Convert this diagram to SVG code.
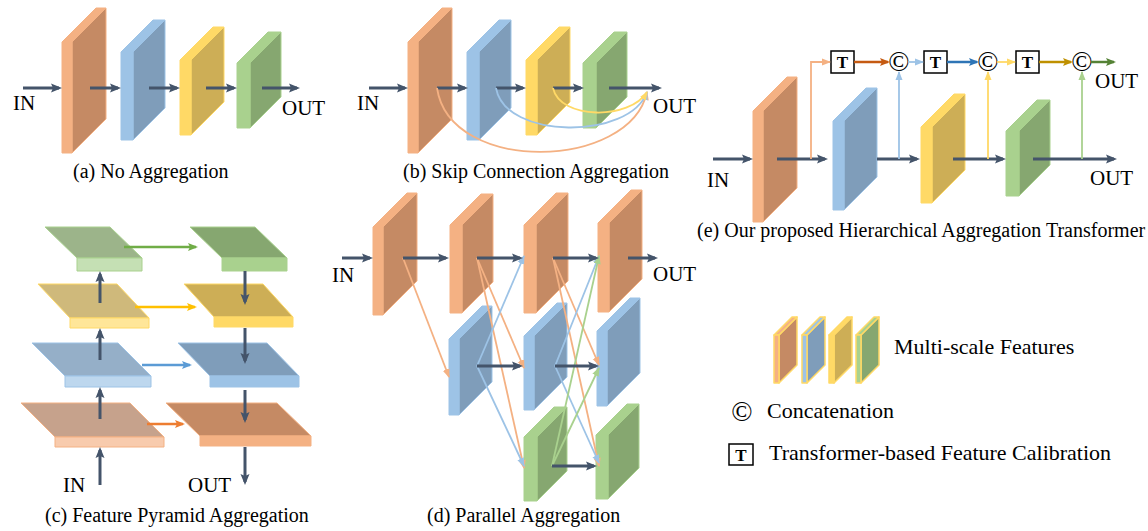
<svg xmlns="http://www.w3.org/2000/svg" width="1148" height="531" viewBox="0 0 1148 531">
<style>
text{font-family:"Liberation Serif","Times New Roman",serif;fill:#000}
.lbl{font-size:21px}
.cap{font-size:20px}
.leg{font-size:22px}
.cc{font-size:28px;text-anchor:middle}
.tt{font-size:17px;font-weight:bold;text-anchor:middle}
.tb{fill:#fff;stroke:#000;stroke-width:1.5}
.f,.s{stroke-width:1;stroke-linejoin:round}
.o .f{fill:#F4B183;stroke:#F4B183}.o .s{fill:#C58A64;stroke:#F4B183}
.b .f{fill:#9DC3E6;stroke:#9DC3E6}.b .s{fill:#7F9DBA;stroke:#9DC3E6}
.y .f{fill:#FFD966;stroke:#FFD966}.y .s{fill:#CDAE56;stroke:#FFD966}
.g .f{fill:#A9D18E;stroke:#A9D18E}.g .s{fill:#86A770;stroke:#A9D18E}
.lg .f,.lg .s{stroke:#FFD966;stroke-width:1.5}
.po .f{fill:#F8CBAD;stroke:#F4B183}.po .s{fill:#C6A28C;stroke:#F4B183}
.pb .f{fill:#BDD7EE;stroke:#9DC3E6}.pb .s{fill:#95AFC8;stroke:#9DC3E6}
.py .f{fill:#FFE699;stroke:#FFD966}.py .s{fill:#CFB97B;stroke:#FFD966}
.pg .f{fill:#C5E0B4;stroke:#A9D18E}.pg .s{fill:#9CB48A;stroke:#A9D18E}
.dk{fill:none;stroke:#44546A;stroke-width:3;marker-end:url(#m-dk)}
.th{fill:none;stroke-width:1.8}
.md{fill:none;stroke-width:2.5}
</style>
<defs>
<marker id="m-dk" markerUnits="userSpaceOnUse" markerWidth="11" markerHeight="10" refX="8" refY="5" orient="auto"><path d="M0,0.5 L11,5 L0,9.5 L2,5 z" fill="#44546A"/></marker>
<marker id="m-lo" markerUnits="userSpaceOnUse" markerWidth="9" markerHeight="8" refX="8" refY="4" orient="auto"><path d="M0,0.5 L9,4 L0,7.5 z" fill="#F4B183"/></marker>
<marker id="m-lb" markerUnits="userSpaceOnUse" markerWidth="9" markerHeight="8" refX="8" refY="4" orient="auto"><path d="M0,0.5 L9,4 L0,7.5 z" fill="#9DC3E6"/></marker>
<marker id="m-ly" markerUnits="userSpaceOnUse" markerWidth="9" markerHeight="8" refX="8" refY="4" orient="auto"><path d="M0,0.5 L9,4 L0,7.5 z" fill="#FFD966"/></marker>
<marker id="m-lg" markerUnits="userSpaceOnUse" markerWidth="9" markerHeight="8" refX="8" refY="4" orient="auto"><path d="M0,0.5 L9,4 L0,7.5 z" fill="#A9D18E"/></marker>
<marker id="m-co" markerUnits="userSpaceOnUse" markerWidth="10" markerHeight="9" refX="8" refY="4.5" orient="auto"><path d="M0,0.5 L10,4.5 L0,8.5 L2,4.5 z" fill="#ED7D31"/></marker>
<marker id="m-cb" markerUnits="userSpaceOnUse" markerWidth="10" markerHeight="9" refX="8" refY="4.5" orient="auto"><path d="M0,0.5 L10,4.5 L0,8.5 L2,4.5 z" fill="#5B9BD5"/></marker>
<marker id="m-cy" markerUnits="userSpaceOnUse" markerWidth="10" markerHeight="9" refX="8" refY="4.5" orient="auto"><path d="M0,0.5 L10,4.5 L0,8.5 L2,4.5 z" fill="#FFC000"/></marker>
<marker id="m-cg" markerUnits="userSpaceOnUse" markerWidth="10" markerHeight="9" refX="8" refY="4.5" orient="auto"><path d="M0,0.5 L10,4.5 L0,8.5 L2,4.5 z" fill="#70AD47"/></marker>
<marker id="m-eo" markerUnits="userSpaceOnUse" markerWidth="10" markerHeight="9" refX="8" refY="4.5" orient="auto"><path d="M0,0.5 L10,4.5 L0,8.5 L2,4.5 z" fill="#C55A11"/></marker>
<marker id="m-eb" markerUnits="userSpaceOnUse" markerWidth="10" markerHeight="9" refX="8" refY="4.5" orient="auto"><path d="M0,0.5 L10,4.5 L0,8.5 L2,4.5 z" fill="#2E75B6"/></marker>
<marker id="m-ey" markerUnits="userSpaceOnUse" markerWidth="10" markerHeight="9" refX="8" refY="4.5" orient="auto"><path d="M0,0.5 L10,4.5 L0,8.5 L2,4.5 z" fill="#BF9000"/></marker>
<marker id="m-eg" markerUnits="userSpaceOnUse" markerWidth="10" markerHeight="9" refX="8" refY="4.5" orient="auto"><path d="M0,0.5 L10,4.5 L0,8.5 L2,4.5 z" fill="#548235"/></marker>
</defs>

<!-- (a) -->
<g id="a-f1" class="o"><polygon class="s" points="72,42 106,8 106,119 72,153"/><polygon class="f" points="62,42 72,42 106,8 96,8"/><rect class="f" x="62" y="42" width="10" height="111"/></g>
<g id="a-f2" class="b"><polygon class="s" points="133,52 165,20 165,108 133,140"/><polygon class="f" points="121,52 133,52 165,20 153,20"/><rect class="f" x="121" y="52" width="12" height="88"/></g>
<g id="a-f3" class="y"><polygon class="s" points="191,60 224,27 224,102 191,135"/><polygon class="f" points="180,60 191,60 224,27 213,27"/><rect class="f" x="180" y="60" width="11" height="75"/></g>
<g id="a-f4" class="g"><polygon class="s" points="250,63 281,32 281,97 250,128"/><polygon class="f" points="237,63 250,63 281,32 268,32"/><rect class="f" x="237" y="63" width="13" height="65"/></g>

<!-- (b) -->
<g id="b-f1" class="o" transform="translate(346,0)"><polygon class="s" points="72,42 106,8 106,119 72,153"/><polygon class="f" points="62,42 72,42 106,8 96,8"/><rect class="f" x="62" y="42" width="10" height="111"/></g>
<g id="b-f2" class="b" transform="translate(346,0)"><polygon class="s" points="133,52 165,20 165,108 133,140"/><polygon class="f" points="121,52 133,52 165,20 153,20"/><rect class="f" x="121" y="52" width="12" height="88"/></g>
<g id="b-f3" class="y" transform="translate(346,0)"><polygon class="s" points="191,60 224,27 224,102 191,135"/><polygon class="f" points="180,60 191,60 224,27 213,27"/><rect class="f" x="180" y="60" width="11" height="75"/></g>
<g id="b-f4" class="g" transform="translate(346,0)"><polygon class="s" points="250,63 281,32 281,97 250,128"/><polygon class="f" points="237,63 250,63 281,32 268,32"/><rect class="f" x="237" y="63" width="13" height="65"/></g>

<!-- (e) -->
<g id="e-f1" class="o" transform="translate(691,69)"><polygon class="s" points="72,42 106,8 106,119 72,153"/><polygon class="f" points="62,42 72,42 106,8 96,8"/><rect class="f" x="62" y="42" width="10" height="111"/></g>
<g id="e-f2" class="b"><polygon class="s" points="844,121 877,88 877,177 844,210"/><polygon class="f" points="833,121 844,121 877,88 866,88"/><rect class="f" x="833" y="121" width="11" height="89"/></g>
<g id="e-f3" class="y"><polygon class="s" points="932,127 965,94 965,170 932,203"/><polygon class="f" points="921,127 932,127 965,94 954,94"/><rect class="f" x="921" y="127" width="11" height="76"/></g>
<g id="e-f4" class="g"><polygon class="s" points="1019,131 1050,100 1050,165 1019,196"/><polygon class="f" points="1006,131 1019,131 1050,100 1037,100"/><rect class="f" x="1006" y="131" width="13" height="65"/></g>
<g id="e-t1"><rect class="tb" x="831" y="51" width="23" height="22"/><text class="tt" x="842.5" y="68">T</text></g>
<g id="e-t2"><rect class="tb" x="924" y="51" width="23" height="22"/><text class="tt" x="935.5" y="68">T</text></g>
<g id="e-t3"><rect class="tb" x="1016" y="51" width="23" height="22"/><text class="tt" x="1027.5" y="68">T</text></g>
<g id="e-c1"><text class="cc" x="899" y="71">©</text></g>
<g id="e-c2"><text class="cc" x="988" y="71">©</text></g>
<g id="e-c3"><text class="cc" x="1082" y="71">©</text></g>

<!-- (c) -->
<g id="c-l4" class="pg"><polygon class="s" points="45,227 110,227 142,258 77,258"/><rect class="f" x="77" y="258" width="65" height="13"/></g>
<g id="c-l3" class="py"><polygon class="s" points="38,284 117,284 149,318 70,318"/><rect class="f" x="70" y="318" width="79" height="10"/></g>
<g id="c-l2" class="pb"><polygon class="s" points="32,343 118,343 151,376 65,376"/><rect class="f" x="65" y="376" width="86" height="11"/></g>
<g id="c-l1" class="po"><polygon class="s" points="21,403 130,403 164,437 55,437"/><rect class="f" x="55" y="437" width="109" height="10"/></g>
<g id="c-r4" class="g"><polygon class="s" points="190,227 255,227 287,258 222,258"/><rect class="f" x="222" y="258" width="65" height="13"/></g>
<g id="c-r3" class="y"><polygon class="s" points="184,284 263,284 293,317 214,317"/><rect class="f" x="214" y="317" width="79" height="10"/></g>
<g id="c-r2" class="b"><polygon class="s" points="178,343 267,343 299,376 210,376"/><rect class="f" x="210" y="376" width="89" height="11"/></g>
<g id="c-r1" class="o"><polygon class="s" points="166,403 277,403 311,436 200,436"/><rect class="f" x="200" y="436" width="111" height="10"/></g>

<!-- (d) -->
<g id="d-o1" class="o"><polygon class="s" points="383,227 417,193 417,281 383,315"/><polygon class="f" points="373,227 383,227 417,193 407,193"/><rect class="f" x="373" y="227" width="10" height="88"/></g>
<g id="d-o2" class="o"><polygon class="s" points="462,225 493,194 493,282 462,313"/><polygon class="f" points="450,225 462,225 493,194 481,194"/><rect class="f" x="450" y="225" width="12" height="88"/></g>
<g id="d-o3" class="o"><polygon class="s" points="536,225 568,193 568,281 536,313"/><polygon class="f" points="524,225 536,225 568,193 556,193"/><rect class="f" x="524" y="225" width="12" height="88"/></g>
<g id="d-o4" class="o"><polygon class="s" points="609,223 642,190 642,279 609,312"/><polygon class="f" points="598,223 609,223 642,190 631,190"/><rect class="f" x="598" y="223" width="11" height="89"/></g>
<g id="d-b2" class="b"><polygon class="s" points="459,339 492,306 492,382 459,415"/><polygon class="f" points="449,339 459,339 492,306 482,306"/><rect class="f" x="449" y="339" width="10" height="76"/></g>
<g id="d-b3" class="b"><polygon class="s" points="534,336 567,303 567,377 534,410"/><polygon class="f" points="524,336 534,336 567,303 557,303"/><rect class="f" x="524" y="336" width="10" height="74"/></g>
<g id="d-b4" class="b"><polygon class="s" points="607,331 640,298 640,373 607,406"/><polygon class="f" points="597,331 607,331 640,298 630,298"/><rect class="f" x="597" y="331" width="10" height="75"/></g>
<g id="d-g3" class="g"><polygon class="s" points="537,437 567,407 567,471 537,501"/><polygon class="f" points="524,437 537,437 567,407 554,407"/><rect class="f" x="524" y="437" width="13" height="64"/></g>
<g id="d-g4" class="g"><polygon class="s" points="608,435 639,404 639,468 608,499"/><polygon class="f" points="596,435 608,435 639,404 627,404"/><rect class="f" x="596" y="435" width="12" height="64"/></g>

<!-- legend -->
<g id="leg-features">
<g class="o lg"><polygon class="s" points="779,335 797,317 797,365 779,383"/><polygon class="f" points="774,335 779,335 797,317 792,317"/><rect class="f" x="774" y="335" width="5" height="48"/></g>
<g class="b lg"><polygon class="s" points="807,335 825,317 825,365 807,383"/><polygon class="f" points="802,335 807,335 825,317 820,317"/><rect class="f" x="802" y="335" width="5" height="48"/></g>
<g class="y lg"><polygon class="s" points="834,335 852,317 852,365 834,383"/><polygon class="f" points="829,335 834,335 852,317 847,317"/><rect class="f" x="829" y="335" width="5" height="48"/></g>
<g class="g lg"><polygon class="s" points="861,335 879,317 879,365 861,383"/><polygon class="f" points="856,335 861,335 879,317 874,317"/><rect class="f" x="856" y="335" width="5" height="48"/></g>
<text class="leg" x="894" y="354">Multi-scale Features</text>
</g>
<g id="leg-concat"><text class="cc" x="742" y="421">©</text><text class="leg" x="767" y="418">Concatenation</text></g>
<g id="leg-trans"><rect class="tb" x="729" y="444" width="24" height="21"/><text class="tt" x="741" y="460.5">T</text><text class="leg" x="769" y="460">Transformer-based Feature Calibration</text></g>

<!-- connectors -->
<g id="connectors">
<path class="dk" d="M23,88 H59"/><path class="dk" d="M90,88 H118"/><path class="dk" d="M149,88 H177"/><path class="dk" d="M206,88 H234"/><path class="dk" d="M262,88 H297"/>
<path class="dk" d="M369,88 H405"/><path class="dk" d="M437,88 H465"/><path class="dk" d="M496,88 H523"/><path class="dk" d="M553,88 H581"/><path class="dk" d="M609,88 H659"/>
<path class="th" stroke="#F4B183" marker-end="url(#m-lo)" d="M437,88 C450,175 630,170 647,92"/>
<path class="th" stroke="#9DC3E6" marker-end="url(#m-lb)" d="M496,88 C505,140 630,140 647,92"/>
<path class="th" stroke="#FFD966" marker-end="url(#m-ly)" d="M553,88 C560,120 630,120 647,92"/>

<path class="dk" d="M713,159 H750"/><path class="dk" d="M777,159 H825"/><path class="dk" d="M877,159 H917"/><path class="dk" d="M953,159 H1003"/><path class="dk" d="M1033,159 H1114"/>
<path class="th" stroke="#F4B183" stroke-width="2" marker-end="url(#m-lo)" d="M811,159 V62 H830"/>
<path class="md" stroke="#C55A11" marker-end="url(#m-eo)" d="M854,62 H888"/>
<path class="th" stroke="#9DC3E6" stroke-width="2" marker-end="url(#m-lb)" d="M908,62 H923"/>
<path class="md" stroke="#2E75B6" marker-end="url(#m-eb)" d="M947,62 H977"/>
<path class="th" stroke="#FFD966" stroke-width="2" marker-end="url(#m-ly)" d="M997,62 H1015"/>
<path class="md" stroke="#BF9000" marker-end="url(#m-ey)" d="M1039,62 H1071"/>
<path class="md" stroke="#548235" marker-end="url(#m-eg)" d="M1091,62 H1114"/>
<path class="th" stroke="#9DC3E6" stroke-width="2" marker-end="url(#m-lb)" d="M899,159 V72"/>
<path class="th" stroke="#FFD966" stroke-width="2" marker-end="url(#m-ly)" d="M988,159 V72"/>
<path class="th" stroke="#A9D18E" stroke-width="2" marker-end="url(#m-lg)" d="M1082,159 V72"/>

<path class="dk" d="M100,485 V450"/><path class="dk" d="M100,419 V390"/><path class="dk" d="M100,360 V331"/><path class="dk" d="M100,303 V274"/>
<path class="dk" d="M245,271 V302"/><path class="dk" d="M245,328 V361"/><path class="dk" d="M245,390 V420"/><path class="dk" d="M245,447 V482"/>
<path class="md" stroke="#70AD47" marker-end="url(#m-cg)" d="M124,247 H196"/>
<path class="md" stroke="#FFC000" marker-end="url(#m-cy)" d="M135,307 H195"/>
<path class="md" stroke="#5B9BD5" marker-end="url(#m-cb)" d="M142,365 H190"/>
<path class="md" stroke="#ED7D31" marker-end="url(#m-co)" d="M147,424 H183"/>

<path class="th" stroke="#F4B183" marker-end="url(#m-lo)" d="M403,258 L449,377"/>
<path class="th" stroke="#F4B183" marker-end="url(#m-lo)" d="M477,258 L524,368"/>
<path class="th" stroke="#F4B183" marker-end="url(#m-lo)" d="M477,258 L524,468"/>
<path class="th" stroke="#9DC3E6" marker-end="url(#m-lb)" d="M477,366 L524,256"/>
<path class="th" stroke="#9DC3E6" marker-end="url(#m-lb)" d="M477,366 L524,466"/>
<path class="th" stroke="#F4B183" marker-end="url(#m-lo)" d="M553,258 L599,365"/>
<path class="th" stroke="#F4B183" marker-end="url(#m-lo)" d="M553,258 L599,466"/>
<path class="th" stroke="#9DC3E6" marker-end="url(#m-lb)" d="M555,366 L599,256"/>
<path class="th" stroke="#9DC3E6" marker-end="url(#m-lb)" d="M555,366 L599,463"/>
<path class="th" stroke="#A9D18E" marker-end="url(#m-lg)" d="M552,466 L599,256"/>
<path class="th" stroke="#A9D18E" marker-end="url(#m-lg)" d="M552,466 L599,368"/>
<path class="dk" d="M342,258 H370"/><path class="dk" d="M403,258 H446"/><path class="dk" d="M477,258 H520"/><path class="dk" d="M553,258 H596"/><path class="dk" d="M628,258 H655"/>
<path class="dk" d="M477,366 H520"/><path class="dk" d="M555,366 H596"/><path class="dk" d="M552,466 H594"/>
</g>

<!-- labels -->
<g id="labels">
<text class="lbl" x="13" y="110">IN</text><text class="lbl" x="282" y="115">OUT</text>
<text class="cap" x="73" y="178">(a) No Aggregation</text>
<text class="lbl" x="357" y="110">IN</text><text class="lbl" x="653" y="113">OUT</text>
<text class="cap" x="403" y="178">(b) Skip Connection Aggregation</text>
<text class="lbl" x="707" y="187">IN</text><text class="lbl" x="1095" y="88">OUT</text><text class="lbl" x="1090" y="185">OUT</text>
<text class="cap" x="697" y="237">(e) Our proposed Hierarchical Aggregation Transformer</text>
<text class="lbl" x="63" y="492">IN</text><text class="lbl" x="188" y="492">OUT</text>
<text class="cap" x="45" y="522">(c) Feature Pyramid Aggregation</text>
<text class="lbl" x="332" y="282">IN</text><text class="lbl" x="653" y="281">OUT</text>
<text class="cap" x="427" y="522">(d) Parallel Aggregation</text>
</g>
</svg>
